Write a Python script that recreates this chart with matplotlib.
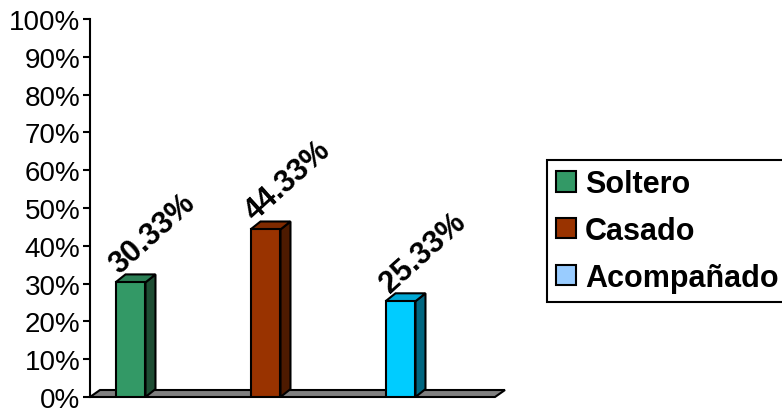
import matplotlib
matplotlib.use('Agg')
import matplotlib.pyplot as plt
from matplotlib.patches import Polygon, Patch
from matplotlib.ticker import FuncFormatter

plt.rcParams.update({'font.family': 'Liberation Sans'})

categories = ['Soltero', 'Casado', 'Acompañado']
values = [30.33, 44.33, 25.33]
value_labels = ['30.33%', '44.33%', '25.33%']

front_colors = ['#339966', '#993300', '#00CCFF']
top_colors = ['#2B7F55', '#7F2A00', '#00A8D4']
side_colors = ['#1E4D33', '#4D1A00', '#006680']
legend_colors = ['#339966', '#993300', '#99CCFF']

fig = plt.figure(figsize=(7.82, 4.14), dpi=100)
ax = fig.add_axes([90 / 782, 16 / 414, 405 / 782, 378 / 414])

ax.set_xlim(-0.5, 2.5)
ax.set_ylim(0, 100)

# pseudo 3D depth (data units)
dx, dy = 0.074, 2.1
fdx, fdy = 0.074, 1.85
bar_w = 0.222
shift = -0.2

# floor
floor = Polygon([(-0.5, 0), (2.5, 0), (2.5 + fdx, fdy), (-0.5 + fdx, fdy)],
                closed=True, facecolor='#808080', edgecolor='black',
                linewidth=1.5, clip_on=False, zorder=1)
ax.add_patch(floor)

for i, (v, lab) in enumerate(zip(values, value_labels)):
    x0 = i + shift - bar_w / 2
    x1 = x0 + bar_w
    ax.bar(x0, v, width=bar_w, align='edge', color=front_colors[i],
           edgecolor='black', linewidth=1.5, zorder=3)
    side = Polygon([(x1, 0), (x1 + dx, dy), (x1 + dx, v + dy), (x1, v)],
                   closed=True, facecolor=side_colors[i], edgecolor='black',
                   linewidth=1.5, zorder=2)
    top = Polygon([(x0, v), (x1, v), (x1 + dx, v + dy), (x0 + dx, v + dy)],
                  closed=True, facecolor=top_colors[i], edgecolor='black',
                  linewidth=1.5, zorder=2)
    ax.add_patch(side)
    ax.add_patch(top)
    ax.text(x0 + 0.03, v + dy, lab, rotation=42, rotation_mode='anchor',
            ha='left', va='baseline', fontsize=22, fontweight='bold', zorder=4)

ax.set_xticks([])
ax.set_yticks(range(0, 101, 10))
ax.yaxis.set_major_formatter(FuncFormatter(lambda y, _: '%d%%' % y))
ax.tick_params(axis='y', direction='out', length=5, width=1.5, labelsize=20, pad=2)
for s in ['top', 'right', 'bottom']:
    ax.spines[s].set_visible(False)
ax.spines['left'].set_linewidth(1.5)

handles = [Patch(facecolor=c, edgecolor='black', linewidth=1.5) for c in legend_colors]
fig.legend(handles, categories, loc='upper left', bbox_to_anchor=(547 / 782, 1 - 161 / 414),
           frameon=True, fancybox=False, edgecolor='black', framealpha=1,
           prop={'size': 22, 'weight': 'bold'}, handlelength=0.65, handleheight=0.65,
           handletextpad=0.3, labelspacing=0.55, borderpad=0.3, borderaxespad=0)
fig.legends[0].get_frame().set_linewidth(1.5)

plt.savefig('out.png', dpi=100)
